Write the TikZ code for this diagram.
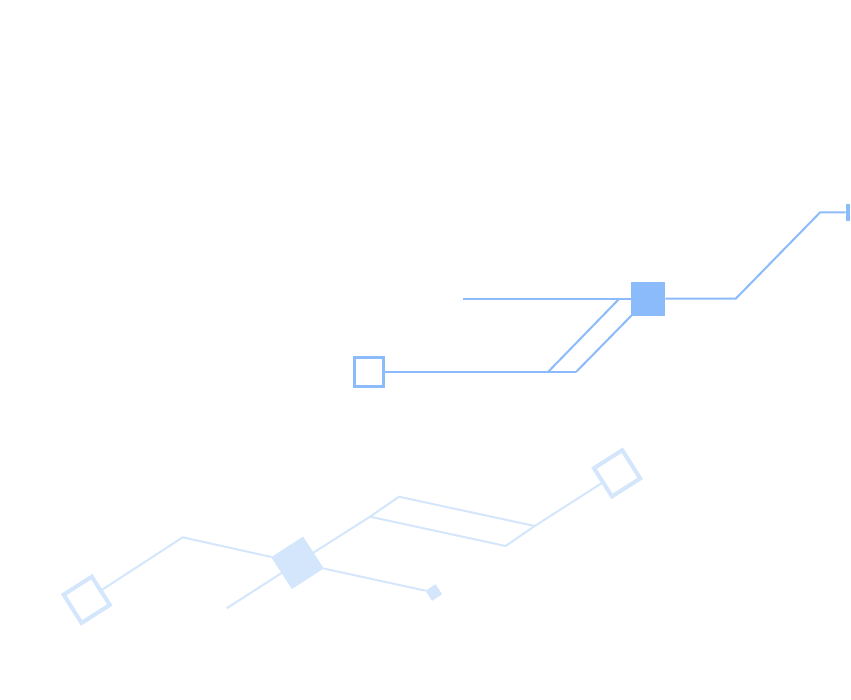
\documentclass[tikz,border=0pt]{standalone}
\definecolor{upblue}{RGB}{139,187,251}
\definecolor{lowblue}{RGB}{212,230,252}
\tikzset{
  upline/.style={draw=upblue,line width=2pt},
  lowline/.style={draw=lowblue,line width=2pt},
  upopen/.style={draw=upblue,fill=white,line width=3pt,minimum size=29pt,inner sep=0pt,outer sep=0pt},
  upfilled/.style={fill=upblue,minimum size=34pt,inner sep=0pt,outer sep=0pt},
  upbar/.style={fill=upblue,minimum width=4.6pt,minimum height=17pt,inner sep=0pt,outer sep=0pt},
  lowopen/.style={draw=lowblue,fill=white,line width=4pt,minimum size=33.5pt,inner sep=0pt,outer sep=0pt,rotate=32.5},
  lowfilled/.style={fill=lowblue,minimum size=38pt,inner sep=0pt,outer sep=0pt,rotate=33},
  lowsmall/.style={fill=lowblue,minimum size=12pt,inner sep=0pt,outer sep=0pt,rotate=33}
}
\begin{document}
\begin{tikzpicture}[x=1pt,y=-1pt]
\useasboundingbox (0,0) rectangle (851,700);
\begin{scope}
\clip (0,0) rectangle (851,700);
% ---------- upper figure ----------
\coordinate (uL) at (463.3,298.7);
\coordinate (uR1) at (735.7,298.7);
\coordinate (uR2) at (820,212.5);
\coordinate (a1) at (619.3,298.7);
\coordinate (a2) at (548,372);
\coordinate (a3) at (576,372);
\node[upfilled] (fsq) at (648.3,298.7) {};
\node[upbar] (bar) at (848,212.5) {};
\draw[upline] (uL) -- (fsq.west);
\draw[upline] (fsq.east) -- (uR1) -- (uR2) -- (bar.west);
\draw[upline] (a1) -- (a2);
\draw[upline] (fsq.south west) -- (a3);
\node[upopen] (osq) at (369.3,372) {};
\draw[upline] (osq.east) -- (a3);
% ---------- lower figure ----------
\coordinate (b1) at (182.7,537.3);
\coordinate (c0) at (226.7,608.3);
\coordinate (b2) at (370,516.7);
\coordinate (b3) at (399,496.7);
\coordinate (b4) at (534.7,526);
\coordinate (b5) at (505.7,546);
\node[lowfilled] (fdia) at (297.5,562.8) {};
\node[lowsmall] (sdia) at (433.8,592.5) {};
\node[lowopen] (osqL) at (86.7,599.8) {};
\node[lowopen] (osqR) at (617.1,473.3) {};
\draw[lowline] (osqL) -- (b1) -- (fdia);
\draw[lowline] (c0) -- (fdia);
\draw[lowline] (fdia) -- (b2) -- (b3) -- (b4) -- (osqR);
\draw[lowline] (b2) -- (b5) -- (b4);
\draw[lowline] (fdia) -- (sdia);
\end{scope}
\end{tikzpicture}
\end{document}
